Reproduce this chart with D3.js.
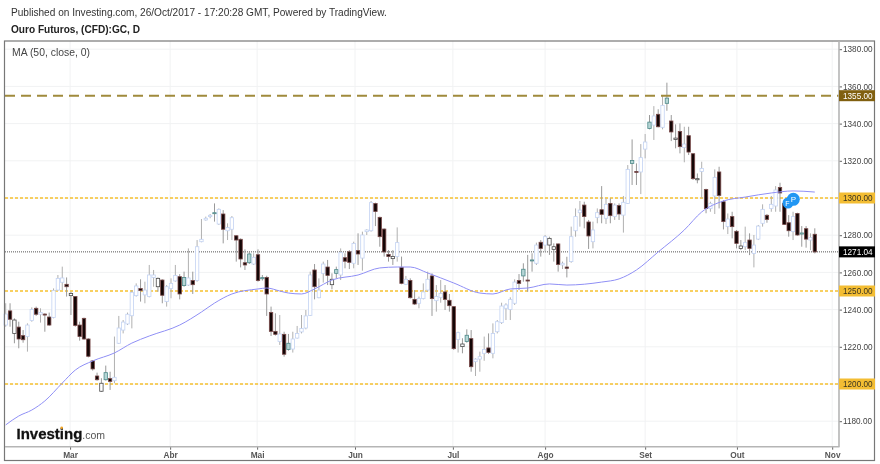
<!DOCTYPE html>
<html><head><meta charset="utf-8">
<script src="https://cdnjs.cloudflare.com/ajax/libs/d3/7.8.5/d3.min.js"></script>
<style>html,body{margin:0;padding:0;background:#fff}svg{display:block;font-family:"Liberation Sans",Arial,sans-serif;filter:blur(0.3px)}</style>
</head><body><svg id="c" width="880" height="464"></svg>
<script>
const highs=[1243.4,1243.4,1235.3,1233.5,1229.0,1232.6,1241.2,1241.6,1240.7,1238.0,1238.4,1251.4,1258.6,1263.1,1257.3,1249.6,1247.3,1233.5,1235.7,1224.6,1212.9,1206.1,1203.1,1209.9,1206.6,1225.5,1236.6,1234.4,1238.4,1250.5,1254.1,1256.3,1255.0,1264.0,1261.3,1257.3,1256.3,1253.2,1256.8,1264.0,1259.1,1260.4,1272.9,1260.4,1277.4,1288.7,1290.0,1291.4,1297.1,1294.4,1293.5,1286.4,1290.3,1280.1,1278.3,1272.4,1271.1,1270.3,1272.4,1258.6,1258.2,1241.6,1238.0,1237.1,1228.1,1226.9,1228.1,1231.2,1237.1,1239.8,1260.4,1264.5,1256.8,1265.8,1266.7,1259.5,1263.1,1272.9,1270.3,1272.0,1276.5,1281.0,1281.9,1283.2,1298.4,1297.5,1290.0,1283.7,1272.0,1272.0,1284.2,1268.5,1258.1,1256.8,1250.5,1247.0,1254.1,1260.4,1259.5,1253.2,1255.9,1253.2,1248.4,1241.9,1228.1,1224.6,1229.4,1229.0,1213.8,1217.4,1225.5,1227.2,1232.6,1234.4,1243.7,1243.4,1246.6,1256.3,1259.1,1264.9,1269.4,1270.3,1276.0,1277.4,1280.1,1279.2,1275.6,1275.6,1265.8,1268.4,1284.6,1294.4,1298.4,1298.0,1288.2,1287.3,1294.4,1306.4,1299.8,1299.8,1297.1,1297.1,1301.1,1317.7,1331.5,1318.6,1329.0,1334.4,1344.6,1349.4,1347.7,1355.4,1362.0,1344.6,1339.6,1340.1,1338.3,1338.3,1324.0,1313.2,1319.5,1305.0,1298.0,1315.4,1316.8,1298.9,1291.7,1292.6,1282.8,1277.4,1284.6,1281.0,1280.1,1285.5,1296.6,1291.4,1301.1,1306.4,1308.2,1298.0,1290.8,1292.6,1292.1,1284.9,1284.9,1281.0,1283.7];
const lows=[1230.8,1230.8,1221.9,1219.2,1222.2,1217.4,1233.5,1236.6,1233.0,1228.1,1231.2,1235.3,1250.0,1250.5,1247.0,1237.1,1230.8,1223.3,1223.7,1214.3,1207.2,1201.8,1195.7,1201.8,1196.8,1200.4,1221.5,1227.2,1231.7,1229.9,1247.0,1244.3,1243.4,1246.6,1252.3,1249.6,1243.4,1241.6,1246.1,1255.0,1245.5,1252.3,1252.7,1248.4,1255.0,1276.2,1287.8,1289.1,1287.3,1285.5,1275.6,1277.4,1277.4,1265.8,1262.7,1261.3,1264.5,1264.0,1255.0,1255.6,1236.6,1225.8,1226.0,1221.0,1214.7,1217.9,1216.9,1224.4,1227.2,1229.4,1236.6,1245.5,1246.1,1254.5,1253.2,1250.9,1256.8,1255.9,1262.2,1261.8,1262.2,1264.0,1260.9,1280.1,1281.9,1284.9,1273.8,1268.5,1265.8,1264.0,1265.8,1253.6,1253.2,1245.9,1242.5,1240.7,1245.5,1249.6,1236.6,1238.9,1243.7,1239.8,1238.9,1218.3,1216.9,1216.5,1222.2,1206.6,1204.3,1206.6,1212.5,1216.1,1213.8,1227.2,1232.3,1234.4,1234.4,1242.5,1250.5,1255.0,1249.6,1260.4,1264.0,1268.5,1271.2,1269.4,1265.8,1260.4,1261.8,1257.3,1265.2,1279.2,1284.6,1283.7,1272.6,1272.9,1286.4,1286.4,1286.0,1286.4,1288.2,1288.2,1281.4,1296.8,1307.0,1307.0,1302.1,1321.3,1336.9,1331.2,1338.0,1336.9,1346.9,1330.6,1326.7,1324.0,1319.2,1323.1,1309.7,1307.9,1299.8,1291.8,1292.6,1291.4,1294.4,1283.1,1280.6,1278.3,1272.9,1272.0,1272.0,1269.3,1262.7,1277.4,1284.6,1286.7,1292.6,1292.6,1292.6,1285.5,1279.2,1277.4,1279.7,1273.8,1273.3,1272.0,1270.2];
const bodyTops=[1237.6,1239.3,1234.4,1230.6,1226.0,1231.7,1240.1,1240.7,1238.4,1237.6,1236.0,1250.2,1256.8,1257.0,1253.6,1248.7,1247.0,1231.7,1235.3,1224.2,1212.4,1204.3,1200.4,1206.1,1202.9,1203.6,1230.1,1233.3,1237.5,1249.3,1252.7,1251.3,1250.5,1258.6,1258.6,1256.8,1255.9,1252.3,1254.1,1258.3,1257.7,1257.3,1257.0,1255.6,1273.8,1277.8,1289.1,1290.7,1292.1,1293.9,1291.4,1284.1,1289.4,1279.7,1277.8,1265.2,1269.9,1268.1,1269.5,1257.2,1257.3,1238.5,1228.3,1226.9,1226.7,1221.9,1224.2,1227.2,1229.8,1236.6,1258.6,1261.3,1250.5,1264.5,1262.9,1256.3,1261.5,1270.6,1267.9,1271.1,1275.6,1271.7,1280.1,1282.8,1297.5,1297.0,1289.6,1283.3,1269.7,1268.5,1276.0,1262.7,1256.3,1255.7,1245.5,1245.9,1249.5,1256.3,1258.1,1247.0,1248.7,1249.5,1245.0,1241.6,1227.6,1221.5,1226.2,1224.4,1213.4,1214.7,1218.6,1219.4,1227.2,1233.5,1241.9,1242.5,1245.5,1254.8,1255.6,1261.7,1255.9,1266.7,1274.7,1276.2,1279.2,1278.3,1273.8,1275.3,1264.9,1262.9,1279.2,1290.0,1293.5,1296.2,1287.1,1282.8,1292.1,1293.7,1296.6,1297.1,1296.2,1295.9,1297.7,1315.4,1320.2,1314.3,1321.7,1330.1,1340.8,1344.1,1345.0,1349.8,1353.7,1341.4,1332.2,1335.8,1329.0,1333.5,1323.8,1310.4,1315.9,1304.6,1297.1,1311.1,1314.0,1298.0,1288.7,1290.0,1282.1,1274.2,1276.0,1277.4,1274.7,1284.9,1293.9,1290.7,1296.6,1304.3,1305.7,1297.1,1286.7,1290.0,1291.7,1281.2,1283.5,1278.7,1280.5];
const bodyBottoms=[1231.7,1234.8,1227.2,1224.2,1223.8,1225.5,1234.1,1237.5,1237.5,1237.3,1231.7,1235.8,1250.5,1254.7,1252.3,1247.5,1231.5,1225.5,1224.2,1214.9,1208.1,1202.3,1196.1,1202.3,1201.4,1201.8,1221.9,1229.0,1232.3,1236.7,1247.5,1250.2,1247.9,1247.0,1257.3,1252.3,1247.7,1244.3,1251.4,1255.4,1248.4,1252.9,1253.2,1253.4,1255.6,1276.5,1288.2,1290.0,1291.6,1286.0,1283.2,1282.4,1283.2,1277.4,1267.2,1264.0,1265.2,1264.5,1255.6,1256.6,1248.4,1228.3,1226.7,1222.8,1216.0,1218.6,1218.8,1224.7,1228.0,1230.1,1236.9,1252.3,1246.4,1259.5,1258.4,1253.4,1259.5,1258.6,1266.0,1265.4,1264.9,1269.9,1267.7,1281.9,1282.4,1292.7,1279.2,1271.0,1268.5,1267.4,1268.5,1254.1,1253.6,1246.4,1243.0,1243.4,1245.9,1250.5,1245.9,1244.8,1246.6,1245.5,1242.1,1219.0,1224.0,1220.1,1222.8,1209.3,1212.0,1213.4,1216.5,1217.0,1216.5,1228.1,1233.0,1240.7,1240.1,1243.4,1254.1,1258.1,1255.4,1266.3,1264.9,1272.9,1274.7,1274.7,1272.4,1264.3,1264.0,1262.2,1265.8,1282.4,1292.1,1290.0,1279.6,1276.5,1289.6,1291.2,1289.1,1290.5,1290.0,1291.4,1290.8,1297.1,1318.6,1314.0,1314.0,1326.3,1337.4,1339.2,1338.3,1338.0,1350.9,1335.5,1331.5,1327.6,1327.2,1324.7,1310.4,1309.8,1314.3,1294.3,1294.4,1301.1,1301.4,1287.3,1284.6,1284.6,1275.6,1272.9,1273.8,1272.9,1270.2,1277.9,1286.4,1288.5,1294.4,1295.7,1302.7,1285.8,1282.4,1281.9,1280.1,1280.6,1277.9,1277.4,1271.04];
const downIdx=[1,3,4,7,9,10,14,16,17,18,19,20,21,24,31,36,40,43,50,53,54,55,58,60,61,62,64,71,74,78,79,81,85,86,87,88,91,93,94,98,101,102,103,107,111,118,120,123,127,129,133,134,137,139,141,145,150,153,155,157,158,161,164,165,167,168,171,175,178,179,180,182,184,186];
const hollowIdx=[2,15,22,35,75,89,105,125,126,154,159,169];
const tealIdx=[23,41,48,56,59,65,76,106,119,121,144,148,152,183];
const maDays=[0,3,6,9,13,16,20,25,29,33,40,45,48,52,58,60,63,65,68,71,75,81,86,90,93,97,103,109,112,116,120,125,129,137,141,145,150,156,160,165,170,176,181,186];
const maValues=[1178.0,1182.8,1186.0,1190.9,1200.5,1207.5,1212.4,1216.7,1222.0,1225.8,1231.7,1238.7,1243.5,1248.4,1251.1,1251.6,1250.0,1248.9,1248.4,1251.1,1255.9,1258.6,1262.4,1262.9,1262.9,1259.7,1254.3,1248.9,1248.4,1251.1,1251.6,1253.8,1253.2,1254.8,1256.5,1261.3,1271.0,1282.8,1292.5,1298.4,1300.5,1302.7,1303.8,1303.2];
const monthLabels=["Mar","Abr","Mai","Jun","Jul","Ago","Set","Out","Nov"];
const monthDays=[14.8,37.8,57.8,80.3,102.8,124,147,168.1,190];
const priceTicks=[1180,1200,1220,1240,1260,1280,1300,1320,1340,1360,1380];
const yellowLevels=[1300,1250,1200];
const brownLevel=1355;
const lastPrice=1271.04;

const svg=d3.select("#c");
const L=5,R=839,T=41,B=446.7;
const x=d3.scaleLinear().domain([0,186]).range([5.7,814.8]);
const y=d3.scaleLinear().domain([1180,1380]).range([421.2,49.2]);
const kind=i=>downIdx.includes(i)?"d":hollowIdx.includes(i)?"h":tealIdx.includes(i)?"t":"u";
const fills={d:"#140606",h:"#ffffff",t:"#b5d5d5",u:"#ffffff"};
const strokes={d:"#7a4a4a",h:"#4a4a4a",t:"#4f8a8a",u:"#c3d3f3"};
const wicks={d:"#999999",h:"#999999",t:"#999999",u:"#b0b0b0"};

// grid
svg.append("g").selectAll("line").data(priceTicks).join("line")
 .attr("x1",L).attr("x2",R).attr("y1",d=>y(d)).attr("y2",d=>y(d)).attr("stroke","#f1f2f3");
svg.append("g").selectAll("line").data(monthDays).join("line")
 .attr("x1",d=>x(d)).attr("x2",d=>x(d)).attr("y1",T).attr("y2",B).attr("stroke","#f1f2f3");

// level lines under candles
svg.append("g").selectAll("line").data(yellowLevels).join("line")
 .attr("x1",L).attr("x2",R).attr("y1",d=>y(d)).attr("y2",d=>y(d))
 .attr("stroke","#f6c12f").attr("stroke-width",1.6).attr("stroke-dasharray","3,2");
svg.append("line").attr("x1",L).attr("x2",R).attr("y1",y(lastPrice)).attr("y2",y(lastPrice))
 .attr("stroke","#555").attr("stroke-width",1).attr("stroke-dasharray","1,1");

// candles
const days=d3.range(highs.length);
const g=svg.append("g");
g.selectAll("line").data(days).join("line")
 .attr("x1",d=>x(d)).attr("x2",d=>x(d)).attr("y1",d=>y(highs[d])).attr("y2",d=>y(lows[d]))
 .attr("stroke",d=>wicks[kind(d)]).attr("stroke-width",1);
g.selectAll("rect").data(days).join("rect")
 .attr("x",d=>x(d)-1.7).attr("width",3.4)
 .attr("y",d=>y(bodyTops[d])).attr("height",d=>Math.max(y(bodyBottoms[d])-y(bodyTops[d]),1))
 .attr("fill",d=>fills[kind(d)]).attr("stroke",d=>strokes[kind(d)]).attr("stroke-width",.8);

// MA
svg.append("path").datum(maDays)
 .attr("d",d3.line().x(d=>x(d)).y((d,i)=>y(maValues[i])).curve(d3.curveMonotoneX))
 .attr("fill","none").attr("stroke","#8f8ff5").attr("stroke-width",1);

// 1355 dashed
svg.append("line").attr("x1",L).attr("x2",R).attr("y1",y(brownLevel)).attr("y2",y(brownLevel))
 .attr("stroke","#a08a3c").attr("stroke-width",2).attr("stroke-dasharray","10,6");

// P marker
const mk=svg.append("g");
mk.append("circle").attr("cx",788).attr("cy",203).attr("r",5.5).attr("fill","#2196f3");
mk.append("circle").attr("cx",793.3).attr("cy",199.3).attr("r",6.5).attr("fill","#2196f3");
mk.append("text").attr("x",793.3).attr("y",202.3).attr("text-anchor","middle").attr("font-size",8).attr("fill","#fff").text("P");
mk.append("text").attr("x",787.5).attr("y",206).attr("text-anchor","middle").attr("font-size",7).attr("fill","#fff").text("F");

// axes
const yAxis=d3.axisRight(y).tickValues(priceTicks).tickFormat(d3.format(".2f")).tickSize(3).tickPadding(1);
const ya=svg.append("g").attr("transform",`translate(${R},0)`).call(yAxis);
ya.select(".domain").remove();
ya.selectAll("line").attr("stroke","#666");
ya.selectAll("text").attr("font-size",8.2).attr("font-family","Liberation Sans").attr("fill","#444");
const xScaleTicks=d3.scaleOrdinal().domain(monthLabels).range(monthDays.map(d=>x(d)));
const xAxis=d3.axisBottom(xScaleTicks).tickValues(monthLabels).tickSize(3).tickPadding(2);
const xa=svg.append("g").attr("transform",`translate(0,${B})`).call(xAxis);
xa.select(".domain").remove();
xa.selectAll("line").attr("stroke","#666");
xa.selectAll("text").attr("font-size",8.3).attr("font-weight","bold").attr("font-family","Liberation Sans").attr("fill","#555");

// axis lines / frame
svg.append("rect").attr("x",L-.5).attr("y",T).attr("width",875-L).attr("height",460.5-T).attr("fill","none").attr("stroke","#777").attr("stroke-width",1.2);
svg.append("line").attr("x1",L).attr("x2",R+.5).attr("y1",B).attr("y2",B).attr("stroke","#b5b5b5").attr("stroke-width",1.6);
svg.append("line").attr("x1",R).attr("x2",R).attr("y1",T).attr("y2",B).attr("stroke","#b5b5b5").attr("stroke-width",1.6);

// price tags
function tag(v,bg,fg){
  const t=svg.append("g");
  t.append("rect").attr("x",R).attr("y",y(v)-5.5).attr("width",36).attr("height",11).attr("fill",bg);
  t.append("text").attr("x",R+4).attr("y",y(v)+3).attr("font-size",8.2).attr("fill",fg).text(d3.format(".2f")(v));
}
yellowLevels.forEach(v=>tag(v,"#f3bd33","#3a3420"));
tag(brownLevel,"#806010","#ffffff");
tag(lastPrice,"#000000","#ffffff");

// texts
const txt=(s,x0,y0,size,w,c)=>svg.append("text").attr("x",x0).attr("y",y0).attr("font-size",size).attr("font-weight",w).attr("fill",c).text(s);
txt("Published on Investing.com, 26/Oct/2017 - 17:20:28 GMT, Powered by TradingView.",11,16,10.1,"normal","#333");
txt("Ouro Futuros, (CFD):GC, D",11,33,10.1,"bold","#222");
txt("MA (50, close, 0)",12,56,10.4,"normal","#444");
const logo=svg.append("text").attr("x",16.5).attr("y",438.5);
logo.append("tspan").attr("font-size",15).attr("font-weight","bold").attr("fill","#111").attr("stroke","#111").attr("stroke-width",.3).text("Investing");
logo.append("tspan").attr("font-size",10.5).attr("fill","#555").text(".com");
svg.append("circle").attr("cx",61.7).attr("cy",427.7).attr("r",1.3).attr("fill","#f5a623");
</script></body></html>
